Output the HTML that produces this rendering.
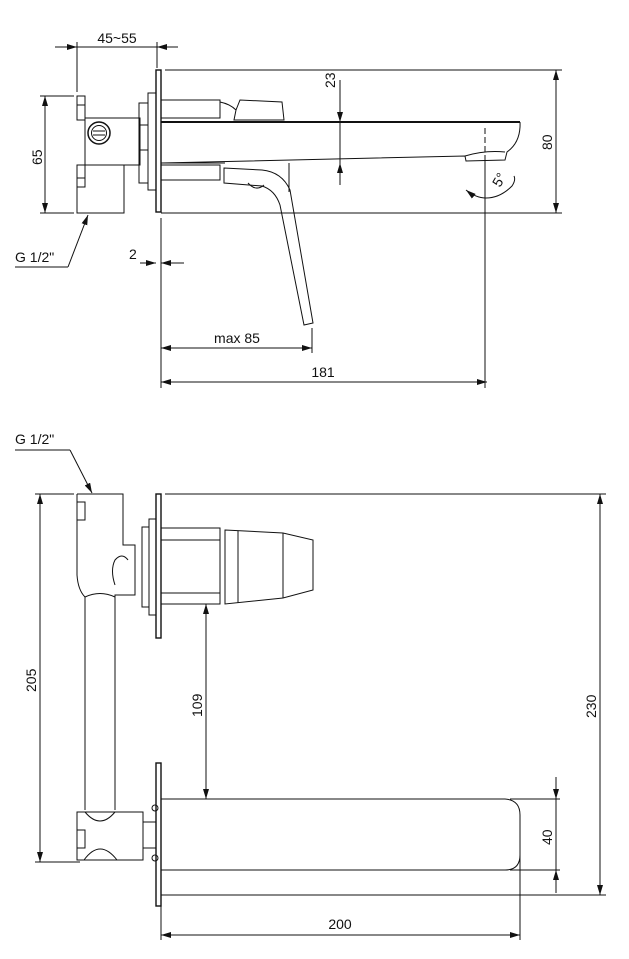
<!DOCTYPE html>
<html><head><meta charset="utf-8"><style>
html,body{margin:0;padding:0;background:#fff;width:629px;height:959px;overflow:hidden}
text{font-family:"Liberation Sans Narrow","Liberation Sans",sans-serif;font-size:14px;fill:#111}
</style></head><body>
<svg width="629" height="959" viewBox="0 0 629 959" xmlns="http://www.w3.org/2000/svg">
<defs>
<marker id="a" viewBox="0 0 10 6" refX="10" refY="3" markerWidth="10" markerHeight="6" orient="auto-start-reverse" markerUnits="userSpaceOnUse"><path d="M0,0L10,3L0,6Z" fill="#111"/></marker>
</defs>
<g fill="none" stroke="#111" stroke-width="1">
<line x1="55" y1="47" x2="178" y2="47"/>
<line x1="55" y1="47" x2="77" y2="47" marker-end="url(#a)"/>
<line x1="178" y1="47" x2="157" y2="47" marker-end="url(#a)"/>
<line x1="77" y1="42" x2="77" y2="92"/>
<line x1="157" y1="42" x2="157" y2="68"/>
<rect x="156" y="70" width="5" height="142" stroke-width="1.4"/>
<line x1="161" y1="218" x2="161" y2="388"/>
<line x1="165" y1="70" x2="562" y2="70"/>
<line x1="161" y1="213" x2="562" y2="213"/>
<line x1="556" y1="70" x2="556" y2="213" marker-start="url(#a)" marker-end="url(#a)"/>
<rect x="77" y="96" width="8" height="24"/>
<rect x="85" y="118" width="55" height="47"/>
<rect x="77" y="165" width="8" height="22"/>
<rect x="77" y="165" width="47" height="48"/>
<line x1="77" y1="105" x2="85" y2="105"/><line x1="77" y1="178" x2="85" y2="178"/>
<circle cx="99" cy="133" r="11" stroke-width="1.5"/><circle cx="99" cy="133" r="7.5"/>
<line x1="93" y1="131" x2="105" y2="131"/><line x1="93" y1="135" x2="105" y2="135"/>
<rect x="139" y="103" width="9" height="80"/>
<rect x="148" y="93" width="8" height="97"/>
<line x1="139" y1="125" x2="148" y2="125"/><line x1="139" y1="150" x2="148" y2="150"/>
<line x1="161" y1="122" x2="520" y2="122" stroke-width="2"/>
<path d="M520,122 Q521,142 507,152 L505,160 L466,161 L465,156 L161,163" />
<line x1="161" y1="163" x2="225" y2="163"/>
<path d="M465,156 Q485,150 505,152"/>
<rect x="161" y="100" width="59" height="18"/>
<path d="M220,102 Q230,104 236,110 L240,100 L282,102 L284,120 L234,120 L236,110"/>
<rect x="161" y="165" width="59" height="15"/>
<path d="M224,168 L262,170 Q282,172 290,190 L313,323 L304,325 L280,205 Q275,190 262,186 L224,183 Z"/>
<line x1="289" y1="163" x2="289" y2="192"/>
<path d="M248,183 Q256,192 264,185"/>
<line x1="340" y1="80" x2="340" y2="122" marker-end="url(#a)"/>
<line x1="340" y1="185" x2="340" y2="163" marker-end="url(#a)"/>
<line x1="340" y1="122" x2="340" y2="163"/>
<line x1="485" y1="128" x2="485" y2="160" stroke-dasharray="6,3"/>
<line x1="485" y1="160" x2="485" y2="388"/>
<path d="M466,190 Q476,198 486,198" marker-start="url(#a)"/>
<path d="M486,198 Q500,198 512,186 Q516,180 514,176"/>
<line x1="140" y1="263" x2="156" y2="263" marker-end="url(#a)"/>
<line x1="184" y1="263" x2="161" y2="263" marker-end="url(#a)"/>
<line x1="15" y1="267" x2="68" y2="267"/>
<line x1="68" y1="267" x2="88" y2="215" marker-end="url(#a)"/>
<line x1="45" y1="96" x2="45" y2="213" marker-start="url(#a)" marker-end="url(#a)"/>
<line x1="40" y1="96" x2="74" y2="96"/><line x1="40" y1="213" x2="74" y2="213"/>
<line x1="161" y1="348" x2="312" y2="348" marker-start="url(#a)" marker-end="url(#a)"/>
<line x1="312" y1="328" x2="312" y2="353"/>
<line x1="161" y1="382" x2="487" y2="382" marker-start="url(#a)" marker-end="url(#a)"/>
<line x1="15" y1="450" x2="70" y2="450"/>
<line x1="70" y1="450" x2="92" y2="493" marker-end="url(#a)"/>
<path d="M77,494 L123,494 L123,545 L135,545 L135,595 L115,595 L115,810 M77,494 L77,575 Q78,590 85,597 L85,810"/>
<rect x="77" y="502" width="8" height="18"/>
<path d="M85,597 Q100,590 115,597"/>
<path d="M115,585 Q110,570 115,560 Q122,552 128,560"/>
<path d="M77,812 L143,812 L143,860 L77,860 Z"/>
<rect x="77" y="830" width="8" height="18"/>
<path d="M85,812 Q100,830 115,812"/><path d="M84,860 Q100,838 117,860"/>
<rect x="143" y="822" width="13" height="26"/>
<circle cx="155" cy="808" r="3"/><circle cx="155" cy="858" r="3"/>
<rect x="156" y="494" width="5" height="144" stroke-width="1.4"/>
<rect x="156" y="763" width="5" height="143" stroke-width="1.4"/>
<line x1="165" y1="494" x2="606" y2="494"/>
<line x1="161" y1="895" x2="606" y2="895"/>
<line x1="600" y1="494" x2="600" y2="895" marker-start="url(#a)" marker-end="url(#a)"/>
<line x1="40" y1="494" x2="40" y2="862" marker-start="url(#a)" marker-end="url(#a)"/>
<line x1="35" y1="494" x2="74" y2="494"/><line x1="35" y1="862" x2="80" y2="862"/>
<rect x="142" y="527" width="7" height="80"/>
<rect x="149" y="519" width="7" height="96"/>
<rect x="161" y="528" width="59" height="76"/>
<line x1="161" y1="540" x2="220" y2="540"/><line x1="161" y1="593" x2="220" y2="593"/>
<path d="M225,530 L283,533 L313,540 L313,590 L283,598 L225,604 Z"/>
<line x1="238" y1="531" x2="238" y2="603"/><line x1="283" y1="533" x2="283" y2="598"/>
<line x1="206" y1="604" x2="206" y2="799" marker-start="url(#a)" marker-end="url(#a)"/>
<path d="M161,799 L505,799 Q520,800 520,815 L520,855 Q520,870 505,870 L161,870"/>
<line x1="510" y1="799" x2="560" y2="799"/><line x1="510" y1="870" x2="560" y2="870"/>
<line x1="556" y1="777" x2="556" y2="799" marker-end="url(#a)"/>
<line x1="556" y1="893" x2="556" y2="870" marker-end="url(#a)"/>
<line x1="556" y1="799" x2="556" y2="870"/>
<line x1="520" y1="830" x2="520" y2="940"/>
<line x1="161" y1="875" x2="161" y2="940"/>
<line x1="161" y1="935" x2="520" y2="935" marker-start="url(#a)" marker-end="url(#a)"/>
</g>
<text x="117" y="43" text-anchor="middle">45~55</text>
<text transform="translate(335,88) rotate(-90)">23</text>
<text transform="translate(552,150) rotate(-90)">80</text>
<text transform="translate(500,188) rotate(-60)">5°</text>
<text x="129" y="259">2</text>
<text x="15" y="262">G 1/2"</text>
<text transform="translate(42,165) rotate(-90)">65</text>
<text x="237" y="343" text-anchor="middle">max 85</text>
<text x="323" y="377" text-anchor="middle">181</text>
<text x="15" y="444">G 1/2"</text>
<text transform="translate(36,692) rotate(-90)">205</text>
<text transform="translate(202,717) rotate(-90)">109</text>
<text transform="translate(596,718) rotate(-90)">230</text>
<text transform="translate(552,845) rotate(-90)">40</text>
<text x="340" y="929" text-anchor="middle">200</text>
</svg>
</body></html>
